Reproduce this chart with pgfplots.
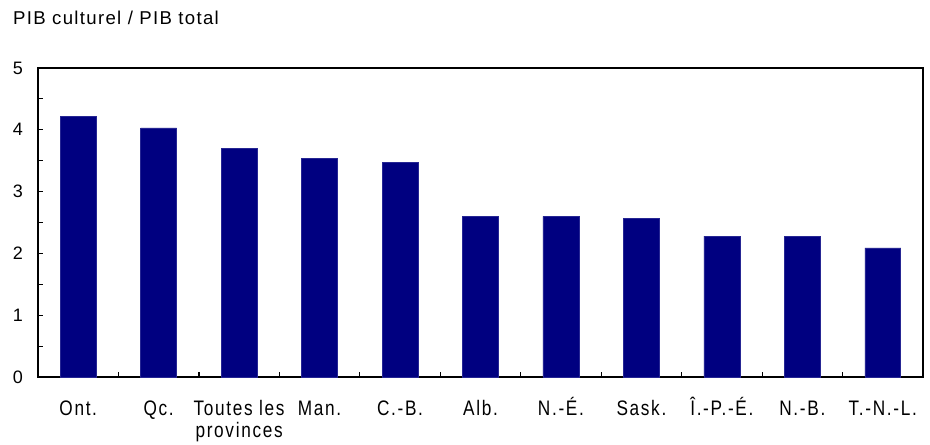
\documentclass[border=0pt]{standalone}
\usepackage{fontspec}
\setmainfont{Liberation Sans}
\newfontfamily\narrowfont[FakeStretch=0.82,LetterSpace=8]{Liberation Sans}
\newfontfamily\titlefont[LetterSpace=7]{Liberation Sans}
\usepackage{pgfplots}
\pgfplotsset{compat=1.18}
\definecolor{navybar}{RGB}{0,0,128}
\begin{document}
\begin{tikzpicture}
\path[use as bounding box] (-38bp,-68bp) rectangle (892bp,377bp);
\node[anchor=base west, inner sep=0pt, font=\titlefont\fontsize{18.6bp}{22bp}\selectfont] at (-25bp,352bp) {PIB culturel / PIB total};
\begin{axis}[
  at={(0,0)}, anchor=south west,
  scale only axis, width=885bp, height=309bp,
  xmin=-0.5, xmax=10.5, ymin=0, ymax=5,
  ytick={0,1,2,3,4,5},
  minor ytick={0.5,1.5,2.5,3.5,4.5},
  xtick={0,1,2,3,4,5,6,7,8,9,10},
  xticklabels={Ont., Qc., {\begin{tabular}[t]{@{}c@{}}Toutes les\\provinces\end{tabular}}, Man., C.-B., Alb., N.-É., Sask., Î.-P.-É., N.-B., T.-N.-L.},
  minor xtick={0.5,1.5,2.5,3.5,4.5,5.5,6.5,7.5,8.5,9.5},
  xtick pos=bottom, ytick pos=left,
  tick align=inside,
  major tick length=5bp, minor tick length=5bp,
  major x tick style={draw=none},
  tick style={line width=1.2bp, black},
  axis line style={line width=1.6bp},
  /pgf/number format/assume math mode=true,
  yticklabel style={font=\fontsize{18bp}{20bp}\selectfont, inner sep=0pt, anchor=east, xshift=-15bp},
  xticklabel style={font=\narrowfont\fontsize{21bp}{22bp}\selectfont, inner sep=0pt, anchor=base, yshift=-38bp},
]
\addplot[ybar, bar width=0.447, fill=navybar, draw=navybar!85!white, line width=0.6bp] coordinates {
  (0,4.22) (1,4.03) (2,3.70) (3,3.54) (4,3.47) (5,2.60) (6,2.60) (7,2.57) (8,2.28) (9,2.28) (10,2.09)
};
\end{axis}
\end{tikzpicture}
\end{document}
